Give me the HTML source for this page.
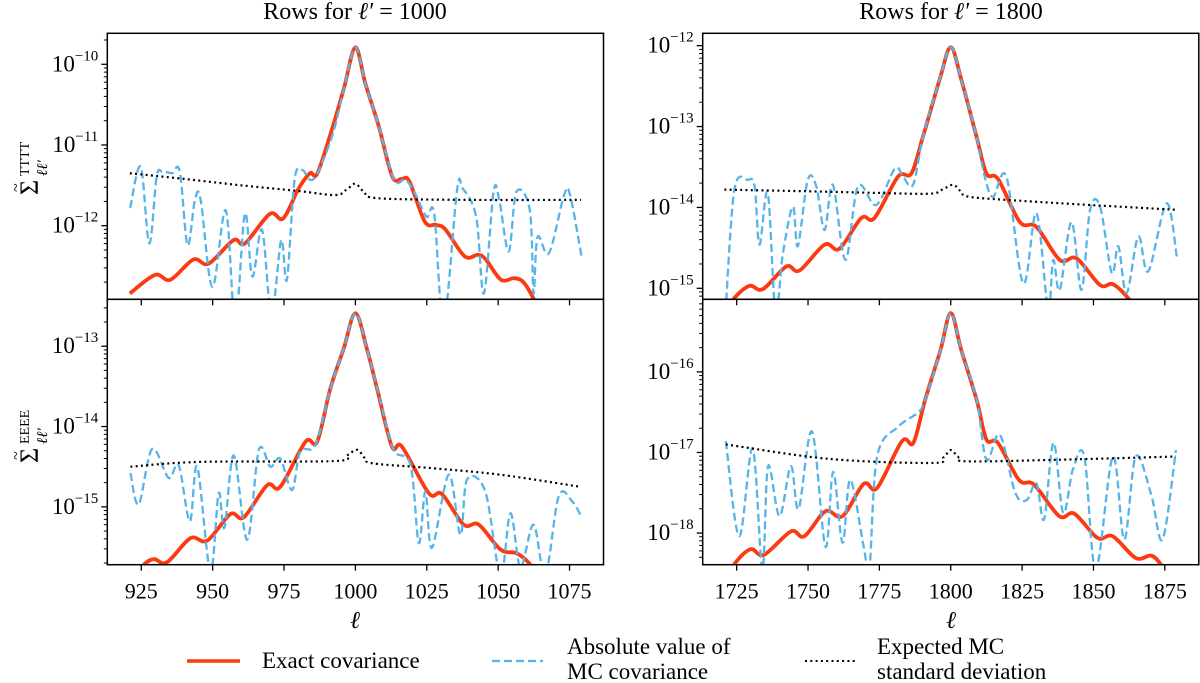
<!DOCTYPE html>
<html><head><meta charset="utf-8">
<style>
html,body{margin:0;padding:0;background:#fff;}
svg{display:block;font-family:"Liberation Serif","DejaVu Serif",serif;}
</style></head>
<body>
<svg id="fig" width="1200" height="683" viewBox="0 0 1200 683" xmlns="http://www.w3.org/2000/svg">
  <text x="355" y="19" font-size="24" text-anchor="middle">Rows for <tspan font-style="italic">ℓ′</tspan> = 1000</text>
  <text x="951" y="19" font-size="24" text-anchor="middle">Rows for <tspan font-style="italic">ℓ′</tspan> = 1800</text>
  <text x="355" y="628" font-size="24" font-style="italic" text-anchor="middle">ℓ</text>
  <text x="951" y="628" font-size="24" font-style="italic" text-anchor="middle">ℓ</text>
  <g transform="translate(38,195) rotate(-90)">
    <text x="0" y="0" font-size="26">Σ</text>
    <text x="3" y="-17" font-size="16">~</text>
    <text x="19" y="-9" font-size="14">TTTT</text>
    <text x="19" y="9" font-size="15" font-style="italic">ℓℓ′</text>
  </g>
  <g transform="translate(38,463) rotate(-90)">
    <text x="0" y="0" font-size="26">Σ</text>
    <text x="3" y="-17" font-size="16">~</text>
    <text x="19" y="-9" font-size="14">EEEE</text>
    <text x="19" y="9" font-size="15" font-style="italic">ℓℓ′</text>
  </g>
  <g>
    <line x1="187" y1="661" x2="240" y2="661" stroke="#fc3a12" stroke-width="3.5"/>
    <text x="262" y="668" font-size="23">Exact covariance</text>
    <line x1="492" y1="661" x2="543" y2="661" stroke="#56b4e9" stroke-width="2.2" stroke-dasharray="8 4"/>
    <text x="567" y="654" font-size="23"><tspan x="567">Absolute value of</tspan><tspan x="567" dy="25">MC covariance</tspan></text>
    <line x1="805" y1="661" x2="856" y2="661" stroke="#000" stroke-width="2" stroke-dasharray="2 3.3"/>
    <text x="877" y="654" font-size="23"><tspan x="877">Expected MC</tspan><tspan x="877" dy="25">standard deviation</tspan></text>
  </g>
</svg>
<script>
// ---- Data (ell, log10 value) ----
const tlExactEll = [921,929.8,935.2,943.2,948.6,957.3,961.3,970,974.7,980.1,984.1,986.7,992.1,996.1,1000,1003.5,1008.2,1012.9,1016.2,1018.9,1024.3,1028.3,1031.6,1038.3,1043,1045.7,1051,1055.7,1059.1,1063,1067];
const tlExactLog = [-12.84,-12.61,-12.67,-12.42,-12.47,-12.18,-12.22,-11.855,-11.91,-11.54,-11.35,-11.35,-10.77,-10.28,-9.79,-10.24,-10.77,-11.39,-11.42,-11.45,-11.95,-11.99,-12.05,-12.38,-12.36,-12.42,-12.67,-12.65,-12.71,-12.95,-13.3];
const tlMcEll = [921.1,924.8,927.8,930.4,932.4,935.8,938.5,941.2,943.8,945.8,949.9,954.6,957.9,961.3,963.9,967.3,970.6,974,976,978.7,981.4,984,986.7,992.1,996.1,1000,1003.5,1008.2,1013.5,1017.5,1020.9,1024.9,1027.6,1030.9,1035.6,1037.6,1042.3,1045,1048.4,1050.4,1053.7,1056.4,1061.1,1062.4,1063.8,1067.8,1073.1,1075.2,1079.2];
const tlMcLog = [-11.78,-11.27,-12.22,-11.39,-11.33,-11.35,-11.33,-12.24,-11.68,-11.68,-12.76,-11.81,-13.2,-11.85,-12.63,-12.05,-13.1,-12.18,-12.67,-11.43,-11.31,-11.43,-11.35,-10.86,-10.28,-9.79,-10.24,-10.77,-11.43,-11.43,-11.6,-11.89,-11.85,-13.2,-11.56,-11.54,-11.89,-12.84,-11.58,-11.68,-12.32,-11.58,-11.81,-12.84,-12.14,-12.34,-11.62,-11.62,-12.38];
const tlStdEll = [921,940,960,980,993,997,1000,1003,1008,1040,1079];
const tlStdLog = [-11.35,-11.42,-11.5,-11.57,-11.62,-11.55,-11.48,-11.58,-11.66,-11.68,-11.68];

const trExactEll = [1721,1724.2,1729.5,1734.2,1742.4,1747,1755.8,1761,1768.7,1773.3,1781.5,1786.2,1790.3,1796.1,1800,1803.7,1809,1812.5,1816.6,1824.2,1830,1838.2,1844.1,1852.3,1856.9,1862.8,1866];
const trExactLog = [-15.3,-15.12,-14.97,-15.01,-14.73,-14.78,-14.46,-14.51,-14.13,-14.13,-13.62,-13.58,-13.12,-12.42,-12.02,-12.42,-13.12,-13.58,-13.65,-14.18,-14.24,-14.65,-14.63,-14.96,-14.95,-15.15,-15.35];
const trMcEll = [1721.1,1724.2,1728.9,1731.3,1733,1735.9,1738.6,1741.2,1744.7,1746.4,1749.9,1752.9,1755.8,1758.7,1763.1,1767.5,1773.9,1780.4,1783.3,1786.8,1790.3,1796.1,1800,1803.7,1809,1811.9,1814.8,1819.5,1825.4,1830,1834.1,1835.9,1838.2,1842.3,1845.8,1848.8,1852.3,1856.4,1858.7,1861.6,1865.7,1869.2,1875.6,1879.2];
const trMcLog = [-15.3,-13.78,-13.66,-13.74,-14.46,-13.82,-15.3,-14.57,-13.99,-14.48,-13.66,-13.74,-14.28,-13.72,-14.65,-13.74,-13.97,-13.52,-13.62,-13.72,-13.12,-12.42,-12.02,-12.42,-13.12,-13.62,-13.87,-13.62,-14.94,-14.07,-15.25,-14.65,-15.02,-14.18,-15.02,-14.03,-13.99,-14.81,-14.48,-15.06,-14.36,-14.79,-13.95,-14.61];
const trStdEll = [1720.7,1749.4,1773.9,1792.6,1797,1800.8,1803.5,1806.7,1825.4,1848.8,1879.2];
const trStdLog = [-13.78,-13.8,-13.82,-13.83,-13.78,-13.72,-13.8,-13.87,-13.92,-13.97,-14.03];

const blExactEll = [922,925.9,929.4,934,942.2,948.1,956.2,960.9,969.1,973.7,982.5,986.6,991.2,995.9,1000,1004,1007.6,1012.8,1016.3,1025.7,1030.3,1037.9,1043.2,1050.8,1056.6,1061.3,1064];
const blExactLog = [-15.9,-15.72,-15.65,-15.69,-15.39,-15.42,-15.09,-15.13,-14.73,-14.75,-14.19,-14.19,-13.53,-13.03,-12.59,-13.03,-13.53,-14.25,-14.25,-14.83,-14.84,-15.22,-15.22,-15.53,-15.58,-15.72,-15.9];
const blMcEll = [921.2,924.1,928.8,934.6,938.1,942,944.6,949.2,952.1,954.1,957.4,962.1,966.2,970.2,973.7,977.8,980.7,986,991.2,995.9,1000,1004,1008.8,1013.4,1019.3,1022.2,1024.5,1026.8,1032.7,1036.8,1039.1,1045.5,1050.8,1054.3,1057.8,1062.4,1066.5,1071.2,1075.9,1079.4];
const blMcLog = [-14.58,-14.97,-14.28,-14.64,-14.48,-15.18,-14.5,-15.8,-14.83,-15.26,-14.36,-15.41,-14.29,-14.5,-14.4,-14.79,-14.31,-14.23,-13.53,-13.03,-12.59,-13.03,-13.69,-14.29,-14.48,-15.45,-14.81,-15.51,-14.6,-15.35,-14.66,-14.81,-15.85,-15.08,-15.75,-15.22,-15.85,-14.87,-14.93,-15.14];
const blStdEll = [921.2,945.7,992.4,997,1000.6,1003.5,1006.4,1027.4,1050.8,1078.8];
const blStdLog = [-14.5,-14.44,-14.43,-14.36,-14.29,-14.4,-14.46,-14.52,-14.6,-14.75];

const brExactEll = [1722,1724.5,1729.9,1734.6,1744,1748.7,1756.1,1762.1,1769.5,1774.2,1782.9,1786.9,1791,1796.4,1800,1803.7,1809.1,1812.5,1816.5,1823.9,1829.2,1838,1843.3,1851.4,1856.8,1864.8,1870.2,1873.6,1876];
const brExactLog = [-18.55,-18.37,-18.2,-18.27,-17.98,-18.04,-17.73,-17.79,-17.39,-17.44,-16.86,-16.88,-16.35,-15.73,-15.27,-15.73,-16.35,-16.84,-16.88,-17.34,-17.4,-17.79,-17.76,-18.06,-18.04,-18.31,-18.28,-18.39,-18.55];
const brMcEll = [1721.2,1725.9,1730.6,1734,1736,1740,1744,1746.7,1751.4,1756.1,1758.8,1762.1,1764.8,1769.5,1771.5,1774.2,1781.6,1788.3,1791,1796.4,1800,1803.7,1809.1,1812.5,1817.2,1822.6,1826.6,1830,1832.7,1836,1839.4,1842.8,1846.8,1850.8,1856.8,1860.8,1864.8,1870.2,1874.2,1878.9];
const brMcLog = [-16.86,-18.04,-16.95,-18.45,-17.17,-17.79,-17.17,-17.7,-16.74,-18.17,-17.24,-18.12,-17.34,-18.17,-18.45,-17.05,-16.68,-16.51,-16.35,-15.73,-15.27,-15.73,-16.35,-17.09,-16.78,-17.5,-17.59,-17.38,-17.83,-16.88,-17.75,-17.21,-17.05,-18.45,-17.05,-18.08,-17.05,-17.52,-18.08,-16.97];
const brStdEll = [1721.2,1757.4,1793.6,1797.5,1800,1802.5,1805.7,1838,1878.9];
const brStdLog = [-16.9,-17.08,-17.13,-17.06,-16.97,-17.05,-17.11,-17.09,-17.05];

const xTicksLeft = [925,950,975,1000,1025,1050,1075];
const xTicksRight = [1725,1750,1775,1800,1825,1850,1875];
const yMajorTL = [-10,-11,-12];
const yMajorTR = [-12,-13,-14,-15];
const yMajorBL = [-13,-14,-15];
const yMajorBR = [-16,-17,-18];

const NS = 'http://www.w3.org/2000/svg';
const svg = document.getElementById('fig');
function mk(tag, attrs, parent){
  const e = document.createElementNS(NS, tag);
  for (const k in attrs) e.setAttribute(k, attrs[k]);
  (parent||svg).appendChild(e);
  return e;
}
function smoothPath(pts){
  if (!pts.length) return '';
  let d = 'M' + pts[0][0].toFixed(2) + ',' + pts[0][1].toFixed(2);
  for (let i = 0; i < pts.length - 1; i++){
    const p0 = pts[Math.max(0,i-1)], p1 = pts[i], p2 = pts[i+1], p3 = pts[Math.min(pts.length-1,i+2)];
    const c1x = p1[0] + (p2[0]-p0[0])/6, c1y = p1[1] + (p2[1]-p0[1])/6;
    const c2x = p2[0] - (p3[0]-p1[0])/6, c2y = p2[1] - (p3[1]-p1[1])/6;
    d += 'C' + c1x.toFixed(2)+','+c1y.toFixed(2)+' '+c2x.toFixed(2)+','+c2y.toFixed(2)+' '+p2[0].toFixed(2)+','+p2[1].toFixed(2);
  }
  return d;
}

const panels = [
  {id:'top-left', x0:107.3, x1:603.5, y0:33.3, y1:299.3, xmin:913.1, xmax:1086.9, lmin:-12.912, lmax:-9.616, xt:xTicksLeft, yt:yMajorTL, labels:false,
   ex:[tlExactEll,tlExactLog], mc:[tlMcEll,tlMcLog], sd:[tlStdEll,tlStdLog]},
  {id:'top-right', x0:702.7, x1:1198.8, y0:33.3, y1:299.3, xmin:1713.1, xmax:1886.9, lmin:-15.136, lmax:-11.847, xt:xTicksRight, yt:yMajorTR, labels:false,
   ex:[trExactEll,trExactLog], mc:[trMcEll,trMcLog], sd:[trStdEll,trStdLog]},
  {id:'bottom-left', x0:107.3, x1:603.5, y0:299.3, y1:564.7, xmin:913.1, xmax:1086.9, lmin:-15.72, lmax:-12.416, xt:xTicksLeft, yt:yMajorBL, labels:true,
   ex:[blExactEll,blExactLog], mc:[blMcEll,blMcLog], sd:[blStdEll,blStdLog]},
  {id:'bottom-right', x0:702.7, x1:1198.8, y0:299.3, y1:564.7, xmin:1713.1, xmax:1886.9, lmin:-18.393, lmax:-15.099, xt:xTicksRight, yt:yMajorBR, labels:true,
   ex:[brExactEll,brExactLog], mc:[brMcEll,brMcLog], sd:[brStdEll,brStdLog]}
];

const defs = mk('defs', {});
panels.forEach(function(p){
  const sx = function(v){ return p.x0 + (v - p.xmin) / (p.xmax - p.xmin) * (p.x1 - p.x0); };
  const sy = function(v){ return p.y1 - (v - p.lmin) / (p.lmax - p.lmin) * (p.y1 - p.y0); };
  const g = mk('g', {});
  
  
  const cp = mk('clipPath', {id: 'clip-' + p.id}, defs);
  mk('rect', {x:p.x0, y:p.y0, width:p.x1-p.x0, height:p.y1-p.y0}, cp);
  const series = mk('g', {'clip-path':'url(#clip-' + p.id + ')'}, g);

  function line(arr, color, width, dash, name){
    const pts = arr[0].map(function(l,i){ return [sx(l), sy(arr[1][i])]; });
    const path = mk('path', {d: smoothPath(pts), fill:'none', stroke:color, 'stroke-width':width, 'stroke-linejoin':'round'}, series);
    if (dash) path.setAttribute('stroke-dasharray', dash);
    
    
  }
  line(p.ex, '#fc3a12', 3.8, null, p.id + '-exact-covariance-line');
  line(p.mc, '#56b4e9', 2.3, '8 4', p.id + '-mc-covariance-line');
  line(p.sd, '#000000', 2.2, '2 3.3', p.id + '-mc-std-line');

  const frame = mk('rect', {x:p.x0, y:p.y0, width:p.x1-p.x0, height:p.y1-p.y0, fill:'none', stroke:'#000', 'stroke-width':1.5}, g);
  
  

  p.xt.forEach(function(t){
    const x = sx(t);
    const tk = mk('line', {x1:x, y1:p.y1, x2:x, y2:p.y1+6, stroke:'#000', 'stroke-width':1.3}, g);
    
    
    if (p.labels){
      const tx = mk('text', {x:x, y:p.y1+34, 'font-size':22, 'text-anchor':'middle'}, g);
      tx.textContent = String(t);
      
      
    }
  });
  for (let dec = Math.floor(p.lmin); dec <= Math.ceil(p.lmax); dec++){
    for (let m = 1; m <= 9; m++){
      const lv = dec + Math.log10(m);
      if (lv < p.lmin - 1e-6 || lv > p.lmax + 1e-6) continue;
      const y = sy(lv);
      const len = m === 1 ? 6 : 3.5;
      const tk = mk('line', {x1:p.x0-len, y1:y, x2:p.x0, y2:y, stroke:'#000', 'stroke-width': m===1?1.3:1}, g);
      
      
    }
  }
  p.yt.forEach(function(t){
    const y = sy(t);
    const tx = mk('text', {x:p.x0-9, y:y+7, 'font-size':23, 'text-anchor':'end'}, g);
    
    
    const a = mk('tspan', {}, tx); a.textContent = '10';
    const b = mk('tspan', {'font-size':15, dy:-11}, tx); b.textContent = '\u2212' + String(-t);
  });
});
</script>
</body></html>
